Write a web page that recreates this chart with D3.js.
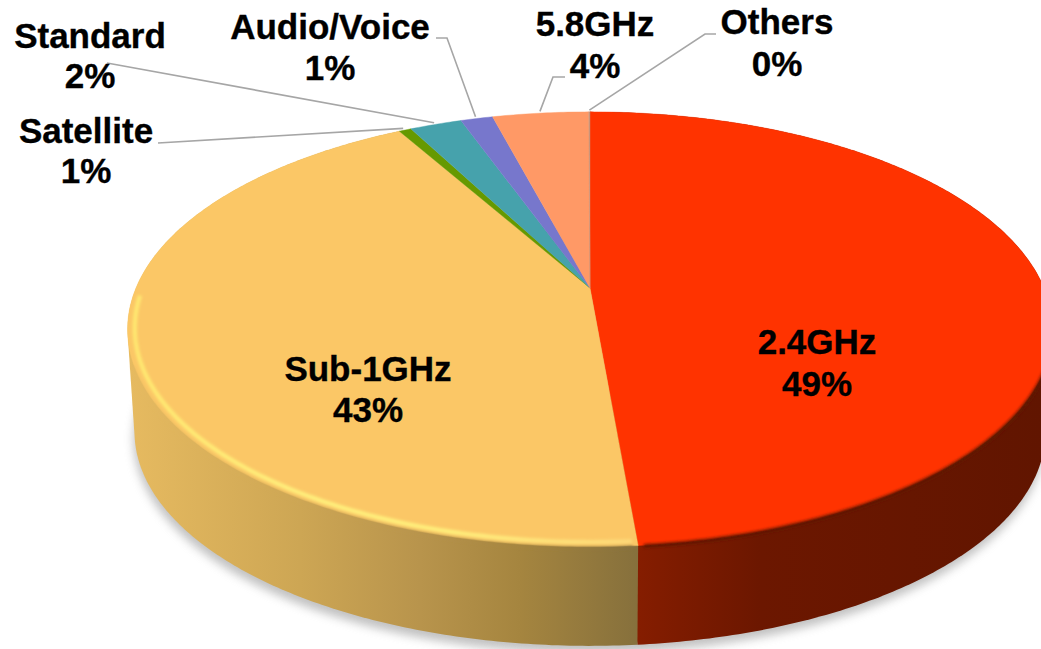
<!DOCTYPE html>
<html>
<head>
<meta charset="utf-8">
<script src="https://cdnjs.cloudflare.com/ajax/libs/d3/7.8.5/d3.min.js"></script>
<style>
  html, body { margin: 0; padding: 0; background: #fff; overflow: hidden; }
  text { font-family: "Liberation Sans", Arial, sans-serif; font-weight: bold; fill: #000; stroke: #000; stroke-width: 0.35; }
</style>
</head>
<body>
<div id="chart"></div>
<script>
// values, labels are the rounded ones printed on it
const categories = ['2.4GHz', 'Sub-1GHz', 'Satellite', 'Standard', 'Audio/Voice', '5.8GHz', 'Others']
const shares = [48.63, 43.23, 0.51, 2.19, 1.35, 4.04, 0.05]
const shareLabels = ['49%', '43%', '1%', '2%', '1%', '4%', '0%']
const colors = ['#ff3300', '#fbc766', '#669900', '#46a2ac', '#7777cc', '#ff9966', '#c9957a']

const width = 1041
const height = 649

// perspective of the tilted disc
const apex = { x: 590, y: 288 }
const radiusX = 454
const radiusY = 209.6
const tilt = 0.19
const depth = 103
const baseScale = 0.985

// label placement, [x, baseline of first line, baseline of second line]
const labelSpots = [
  [817, 354, 396],
  [368, 381, 422],
  [86, 143, 183],
  [90, 48, 88],
  [330, 39, 80],
  [595, 36, 78],
  [777, 34, 76],
]
// leader lines run from the label (through an optional elbow) to the rim
const leaders = [
  null,
  null,
  [[158, 143]],
  [[107, 63]],
  [[436, 38], [447, 38]],
  [[565, 77], [553, 77]],
  [[716, 34], [705, 34]],
]

const project = (angle, r = 1, level = 0) => {
  const X = Math.sin(angle) * r
  const Y = -Math.cos(angle) * r
  const w = 1 - tilt * Y
  const scale = level ? baseScale : 1
  return [
    apex.x + radiusX * X / w * scale,
    apex.y + radiusY * Y / w * scale + level * depth,
  ]
}

const pie = d3.pie().sort(null).value(d => d)
const arcs = pie(shares)

const arcPoints = (a0, a1, r = 1, level = 0) => d3.range(0, 1.0001, 1 / Math.max(4, Math.ceil((a1 - a0) * 90)))
  .map(t => project(a0 + (a1 - a0) * t, r, level))

const line = d3.line()
const closed = d3.line().curve(d3.curveLinearClosed)

const svg = d3.select('#chart').append('svg')
  .attr('width', width)
  .attr('height', height)
  .attr('viewBox', `0 0 ${width} ${height}`)
  .style('display', 'block')

const defs = svg.append('defs')
const blur = (id, dev) => defs.append('filter')
  .attr('id', id)
  .attr('x', '-10%').attr('y', '-10%').attr('width', '120%').attr('height', '120%')
  .append('feGaussianBlur').attr('stdDeviation', dev)
blur('shadow', 5)
blur('soft', 1.6)

const gradient = (id, stops) => {
  const g = defs.append('linearGradient')
    .attr('id', id)
    .attr('gradientUnits', 'userSpaceOnUse')
    .attr('x1', 0).attr('x2', width).attr('y1', 0).attr('y2', 0)
  stops.forEach(([x, c]) => g.append('stop').attr('offset', x / width).attr('stop-color', c))
}
gradient('side0', [[638, '#851d00'], [760, '#6c1700'], [1041, '#611500']])
gradient('side1', [[130, '#e6ba60'], [300, '#cda654'], [420, '#b8944c'], [520, '#a5853f'], [638, '#86703c']])
gradient('glow', [[130, '#ffe870'], [300, '#fff07c'], [450, '#fff07c'], [638, '#fdd878']])

// ground shadow
svg.append('path')
  .attr('d', closed(arcPoints(0, Math.PI * 2, 1, 1).map(([x, y]) => [x - 1, y + 7])))
  .attr('fill', '#a0a0a0')
  .attr('opacity', 0.65)
  .attr('filter', 'url(#shadow)')

// rim, only the two big slices are seen from the front
svg.append('g').selectAll('path')
  .data(arcs.slice(0, 2))
  .join('path')
  .attr('d', d => closed(d3.polygonHull([
    ...arcPoints(d.startAngle, d.endAngle),
    ...arcPoints(d.startAngle, d.endAngle, 1, 1),
  ])))
  .attr('fill', d => `url(#side${d.index})`)

// top face
svg.append('g').selectAll('path')
  .data(arcs)
  .join('path')
  .attr('d', d => closed([[apex.x, apex.y], ...arcPoints(d.startAngle, d.endAngle)]))
  .attr('fill', d => colors[d.index])
  .attr('stroke', d => colors[d.index])
  .attr('stroke-width', 0.4)

// bevel along the front of the top edge
const bevel = svg.append('g').attr('filter', 'url(#soft)').attr('fill', 'none')
bevel.append('path')
  .attr('d', line(arcPoints(1.72, arcs[0].endAngle - 0.01, 1.002)))
  .attr('stroke', '#601400')
  .attr('stroke-width', 3.5)
bevel.append('path')
  .attr('d', line(arcPoints(arcs[1].startAngle + 0.01, arcs[1].startAngle + 1.3, 1.004)))
  .attr('stroke', 'url(#side1)')
  .attr('stroke-width', 3)
bevel.append('path')
  .attr('d', line(arcPoints(arcs[1].startAngle + 0.01, arcs[1].startAngle + 1.62, 0.985)))
  .attr('stroke', 'url(#glow)')
  .attr('stroke-width', 4.2)

// leader lines
svg.append('g').selectAll('path')
  .data(arcs.filter(d => leaders[d.index]))
  .join('path')
  .attr('d', d => line([...leaders[d.index], project((d.startAngle + d.endAngle) / 2, 1.012)]))
  .attr('fill', 'none')
  .attr('stroke', '#a6a6a6')
  .attr('stroke-width', 1.6)

// labels
const labels = svg.append('g').attr('text-anchor', 'middle').attr('font-size', 35)
categories.forEach((name, i) => {
  const [x, y1, y2] = labelSpots[i]
  labels.append('text').attr('x', x).attr('y', y1).text(name)
  labels.append('text').attr('x', x).attr('y', y2).text(shareLabels[i])
})
</script>
</body>
</html>
